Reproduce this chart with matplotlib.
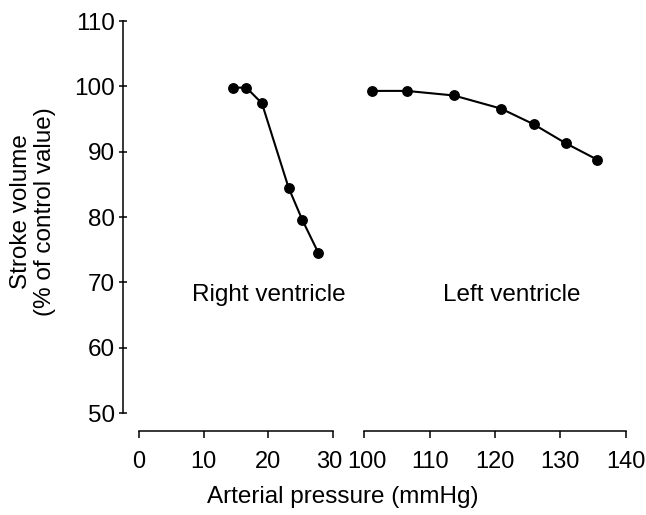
import matplotlib
matplotlib.use("Agg")
import matplotlib.pyplot as plt
from matplotlib.transforms import ScaledTranslation

# data
rv_pressure = [14.6, 16.6, 19.0, 23.1, 25.2, 27.7]
rv_volume = [99.8, 99.8, 97.4, 84.5, 79.6, 74.5]
lv_pressure = [101.2, 106.5, 113.7, 120.9, 125.9, 130.8, 135.6]
lv_volume = [99.3, 99.3, 98.6, 96.6, 94.2, 91.3, 88.8]

rv_ticks = [0, 10, 20, 30]
lv_ticks = [100, 110, 120, 130, 140]
y_ticks = [50, 60, 70, 80, 90, 100, 110]

plt.rcParams['font.family'] = ['Liberation Sans', 'DejaVu Sans']
fs = 17.5
tfs = 17

W, H = 646, 515
fig = plt.figure(figsize=(W / 100, H / 100), dpi=100)

bottom = 1 - 413 / H
height = (413 - 21) / H
ax1 = fig.add_axes([138.7 / W, bottom, (333.3 - 138.7) / W, height])
ax2 = fig.add_axes([364.3 / W, bottom, (625.7 - 364.3) / W, height])

for ax in (ax1, ax2):
    ax.set_ylim(50, 110)
    for s in ('top', 'right'):
        ax.spines[s].set_visible(False)
    ax.spines['bottom'].set_position(('outward', 12.7))
    ax.spines['bottom'].set_linewidth(1.1)
    ax.tick_params(axis='x', direction='out', length=5, width=1.1,
                   labelsize=tfs, pad=10)
    ax.patch.set_visible(False)

ax1.set_xlim(0, 30)
ax1.set_xticks(rv_ticks)
ax1.set_yticks(y_ticks)
ax1.spines['left'].set_position(('outward', 11.1))
ax1.spines['left'].set_linewidth(1.1)
ax1.tick_params(axis='y', direction='inout', length=6, width=1.1,
                labelsize=fs, pad=3)

ax2.set_xlim(100, 140)
ax2.set_xticks(lv_ticks)
ax2.spines['left'].set_visible(False)
ax2.set_yticks([])

# nudge the two labels that meet at the axis break apart
lab30 = ax1.get_xticklabels()[-1]
lab30.set_transform(lab30.get_transform() + ScaledTranslation(-4 / 100, 0, fig.dpi_scale_trans))
lab100 = ax2.get_xticklabels()[0]
lab100.set_transform(lab100.get_transform() + ScaledTranslation(3 / 100, 0, fig.dpi_scale_trans))

ax1.plot(rv_pressure, rv_volume, color='black', lw=1.5, marker='o',
         ms=6.8, clip_on=False)
ax2.plot(lv_pressure, lv_volume, color='black', lw=1.5, marker='o',
         ms=6.8, clip_on=False)

ax1.text(20.1, 68.1, 'Right ventricle', fontsize=fs, ha='center', va='center')
ax2.text(122.5, 68.1, 'Left ventricle', fontsize=fs, ha='center', va='center')

fig.text(343 / W, 1 - 497 / H, 'Arterial pressure (mmHg)', fontsize=fs,
         ha='center', va='center')
fig.text(33 / W, 1 - 212 / H, 'Stroke volume\n(% of control value)',
         fontsize=fs, ha='center', va='center', rotation=90,
         multialignment='center', linespacing=1.1)

fig.savefig('out.png', dpi=100)
